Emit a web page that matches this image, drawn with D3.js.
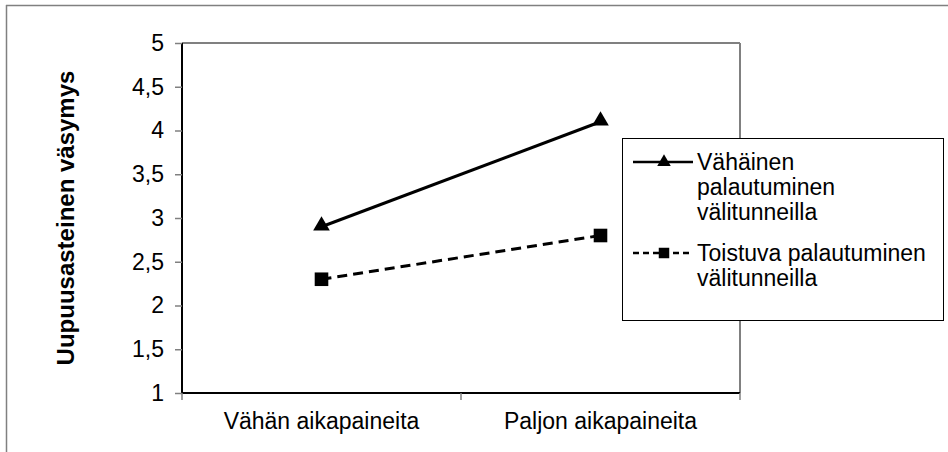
<!DOCTYPE html>
<html><head><meta charset="utf-8">
<script src="https://cdn.jsdelivr.net/npm/d3@7"></script>
<style>html,body{margin:0;padding:0;background:#fff;}text{font-family:Arial,"Liberation Sans",sans-serif;}</style>
</head><body>
<svg id="c" width="948" height="452"></svg>
<script>
const categories = ["Vähän aikapaineita", "Paljon aikapaineita"];
const seriesNames = [["Vähäinen", "palautuminen", "välitunneilla"], ["Toistuva palautuminen", "välitunneilla"]];
const lowRecovery = [2.9, 4.1];
const frequentRecovery = [2.3, 2.8];
const yTicks = [1, 1.5, 2, 2.5, 3, 3.5, 4, 4.5, 5];
const yTitle = "Uupuusasteinen väsymys";

const svg = d3.select("#c");
const m = {l: 182, t: 43, r: 740, b: 393};
const fs = 23;

// outer frame (top & left only visible)
svg.append("line").attr("x1", 6).attr("x2", 948).attr("y1", 5.5).attr("y2", 5.5).attr("stroke", "#808080").attr("stroke-width", 1.5);
svg.append("line").attr("x1", 6.5).attr("x2", 6.5).attr("y1", 5).attr("y2", 452).attr("stroke", "#808080").attr("stroke-width", 1.5);

const x = d3.scaleBand().domain(categories).range([m.l, m.r]).padding(0);
const y = d3.scaleLinear().domain([1, 5]).range([m.b, m.t]);

// plot area gray top/right
svg.append("line").attr("x1", m.l).attr("x2", m.r).attr("y1", m.t).attr("y2", m.t).attr("stroke", "#808080").attr("stroke-width", 2);
svg.append("line").attr("x1", m.r).attr("x2", m.r).attr("y1", m.t).attr("y2", m.b).attr("stroke", "#808080").attr("stroke-width", 2);

// y axis
const yAxis = svg.append("g").attr("transform", `translate(${m.l},0)`)
  .call(d3.axisLeft(y).tickValues(yTicks).tickSize(7).tickPadding(11)
    .tickFormat(d => String(d).replace(".", ",")));
yAxis.attr("font-size", fs).attr("font-family", "Arial, 'Liberation Sans', sans-serif");
yAxis.select(".domain").attr("stroke", "#000").attr("stroke-width", 2).attr("d", `M0,${m.t}V${m.b}`);
yAxis.selectAll(".tick line").attr("stroke", "#808080").attr("stroke-width", 1.5);
yAxis.selectAll("text").attr("fill", "#000");

// x axis
const xAxis = svg.append("g").attr("transform", `translate(0,${m.b})`);
xAxis.append("line").attr("x1", m.l).attr("x2", m.r).attr("stroke", "#000").attr("stroke-width", 2);
const bounds = [m.l, ...categories.map(c => x(c) + x.bandwidth())];
xAxis.selectAll(".xt").data(bounds).join("line").attr("class", "xt")
  .attr("x1", d => d).attr("x2", d => d).attr("y1", 0).attr("y2", 7).attr("stroke", "#808080").attr("stroke-width", 1.5);
xAxis.selectAll(".xl").data(categories).join("text").attr("class", "xl")
  .attr("x", d => x(d) + x.bandwidth() / 2).attr("y", 36)
  .attr("text-anchor", "middle").attr("font-size", fs).text(d => d);

// y title
svg.append("text").attr("transform", `translate(74,${(m.t + m.b) / 2}) rotate(-90)`)
  .attr("text-anchor", "middle").attr("font-size", 24).attr("font-weight", "bold").text(yTitle);

const cx = d => x(d) + x.bandwidth() / 2;
const line = d3.line().x(d => cx(d.c)).y(d => y(d.v));
const s1 = categories.map((c, i) => ({c, v: lowRecovery[i]}));
const s2 = categories.map((c, i) => ({c, v: frequentRecovery[i]}));

svg.append("path").datum(s1).attr("d", line).attr("fill", "none").attr("stroke", "#000").attr("stroke-width", 3);
svg.append("path").datum(s2).attr("d", line).attr("fill", "none").attr("stroke", "#000").attr("stroke-width", 3).attr("stroke-dasharray", "10,6");

const tri = d3.symbol().type(d3.symbolTriangle).size(120);
const sq = d3.symbol().type(d3.symbolSquare).size(185);
svg.selectAll(".m1").data(s1).join("path").attr("class", "m1")
  .attr("transform", d => `translate(${cx(d.c)},${y(d.v) - 1})`).attr("d", tri).attr("fill", "#000");
svg.selectAll(".m2").data(s2).join("path").attr("class", "m2")
  .attr("transform", d => `translate(${cx(d.c)},${y(d.v)})`).attr("d", sq).attr("fill", "#000");

// legend
const lg = svg.append("g");
lg.append("rect").attr("x", 622.5).attr("y", 138.5).attr("width", 321).attr("height", 182)
  .attr("fill", "#fff").attr("stroke", "#000").attr("stroke-width", 1);
const items = [{names: seriesNames[0], y0: 162, dash: null, sym: d3.symbol().type(d3.symbolTriangle).size(80)},
               {names: seriesNames[1], y0: 253, dash: "6,4", sym: d3.symbol().type(d3.symbolSquare).size(110)}];
items.forEach(it => {
  lg.append("line").attr("x1", 633).attr("x2", 693).attr("y1", it.y0).attr("y2", it.y0)
    .attr("stroke", "#000").attr("stroke-width", 2.5).attr("stroke-dasharray", it.dash);
  lg.append("path").attr("transform", `translate(664,${it.y0})`).attr("d", it.sym).attr("fill", "#000");
  it.names.forEach((t, k) => {
    lg.append("text").attr("x", 697).attr("y", it.y0 + 8 + k * 25).attr("font-size", fs).text(t);
  });
});
</script>
</body></html>
